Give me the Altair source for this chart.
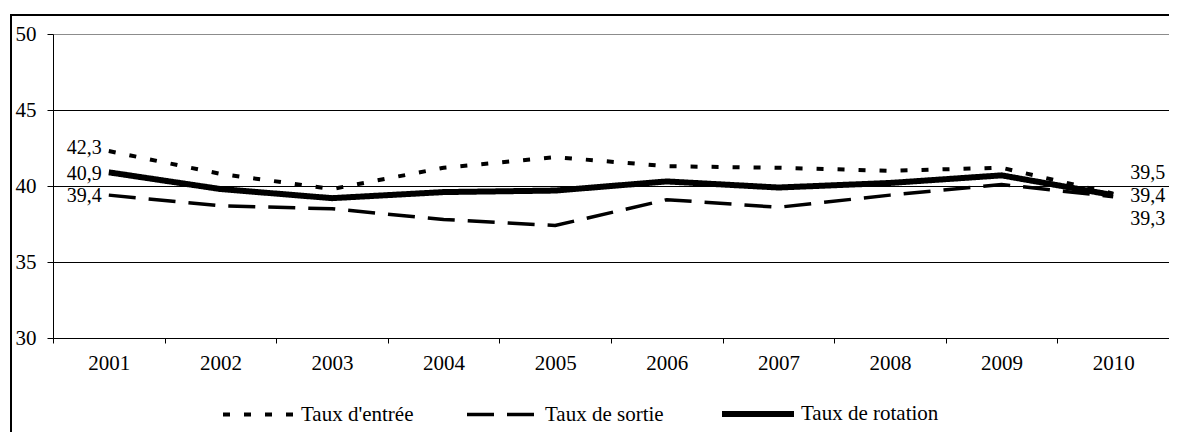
import altair as alt
import pandas as pd

years = ["2001", "2002", "2003", "2004", "2005", "2006", "2007", "2008", "2009", "2010"]
series_names = ["Taux d'entrée", "Taux de sortie", "Taux de rotation"]
entree = [42.3, 40.8, 39.8, 41.2, 41.9, 41.3, 41.2, 41.0, 41.2, 39.5]
sortie = [39.4, 38.7, 38.5, 37.8, 37.4, 39.1, 38.6, 39.4, 40.1, 39.3]
rotation = [40.9, 39.8, 39.2, 39.6, 39.7, 40.3, 39.9, 40.2, 40.7, 39.4]
y_ticks = [30, 35, 40, 45, 50]

FONT = "Liberation Serif"
FS = 21
LFS = 20
W, H = 1116, 304

values = {series_names[0]: entree, series_names[1]: sortie, series_names[2]: rotation}
rows = []
for s in series_names:
    for yr, v in zip(years, values[s]):
        rows.append({"annee": yr, "serie": s, "valeur": v,
                     "label": f"{v:.1f}".replace(".", ",")})
df = pd.DataFrame(rows)

x_enc = alt.X("annee:O", sort=years,
              scale=alt.Scale(type="band", paddingInner=0, paddingOuter=0),
              axis=alt.Axis(title=None, labelAngle=0, tickBand="extent", tickSize=5,
                            tickColor="black", domainColor="black", labelFont=FONT,
                            labelFontSize=FS, labelColor="black", labelPadding=9,
                            grid=False))
y_enc = alt.Y("valeur:Q",
              scale=alt.Scale(domain=[30, 50], nice=False, zero=False),
              axis=alt.Axis(title=None, values=y_ticks, tickSize=6, tickColor="black",
                            domainColor="black", labelFont=FONT, labelFontSize=FS,
                            labelColor="black", labelPadding=11, grid=True,
                            gridColor={"condition": {"test": "datum.value == 50", "value": "#8c8c8c"},
                                       "value": "black"},
                            gridOpacity=1, gridWidth=1.2))

legend = alt.Legend(title=None, orient="none", legendX=168, legendY=341,
                    direction="horizontal", symbolType="stroke", symbolSize=5184,
                    symbolStrokeColor="black", labelFont=FONT, labelFontSize=FS,
                    labelColor="black", labelOffset=4, columnPadding=46)

lines = alt.Chart(df).mark_line(color="black", strokeCap="butt", strokeJoin="miter").encode(
    x=x_enc,
    y=y_enc,
    strokeDash=alt.StrokeDash("serie:O", sort=series_names,
                              scale=alt.Scale(domain=series_names,
                                              range=[[7, 14], [27, 13], [1, 0]]),
                              legend=legend),
    strokeWidth=alt.StrokeWidth("serie:O", sort=series_names,
                                scale=alt.Scale(type="ordinal", domain=series_names,
                                                range=[4, 3.5, 6]),
                                legend=legend),
)

first = df[df["annee"] == years[0]]
left_layers = []
for s, dy in zip(series_names, [-3, 1, 2]):
    left_layers.append(
        alt.Chart(first[first["serie"] == s]).mark_text(
            align="right", baseline="middle", dx=-7, dy=dy,
            font=FONT, fontSize=LFS, color="black").encode(
            x=alt.X("annee:O", sort=years), y="valeur:Q", text="label:N"))

last = df[df["annee"] == years[-1]]
right_layers = []
for s, dy in zip(series_names, [-21, 22, 1]):
    right_layers.append(
        alt.Chart(last[last["serie"] == s]).mark_text(
            align="left", baseline="middle", dx=17, dy=dy,
            font=FONT, fontSize=LFS, color="black").encode(
            x=alt.X("annee:O", sort=years), y="valeur:Q", text="label:N"))

border = alt.Chart(pd.DataFrame({"b": [0]})).mark_rect(
    fillOpacity=0, stroke="black", strokeWidth=2, clip=False).encode(
    x=alt.value(-42), x2=alt.value(W + 40), y=alt.value(-19), y2=alt.value(H + 200))

chart = alt.layer(lines, *left_layers, *right_layers, border).properties(
    width=W, height=H,
    autosize=alt.AutoSizeParams(type="none"),
    padding={"left": 45, "top": 26, "right": 0, "bottom": 94},
).configure_view(stroke="#8c8c8c", strokeWidth=2).configure(background="white")

chart.save("out.html", embed_options={"renderer": "svg", "actions": False})
